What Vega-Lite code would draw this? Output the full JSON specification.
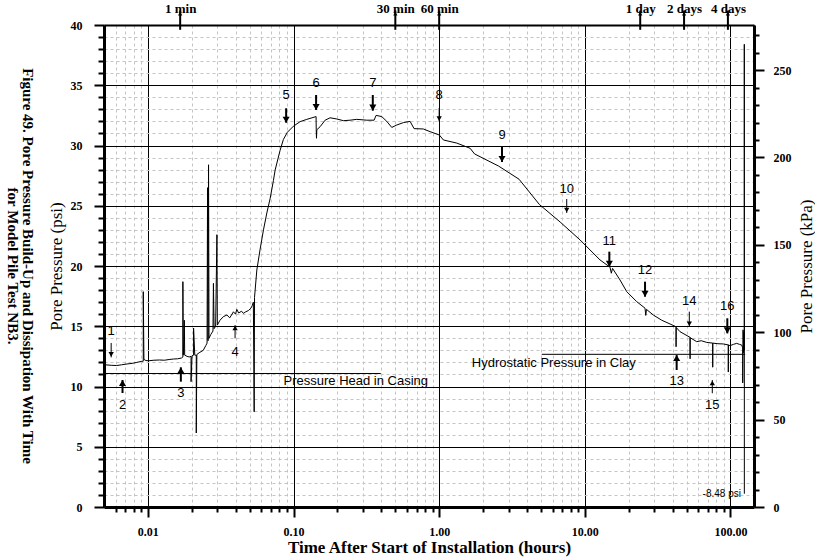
{
  "$schema": "https://vega.github.io/schema/vega-lite/v6.json",
  "width": 650,
  "height": 482,
  "autosize": {"type": "none"},
  "padding": {"left": 104, "top": 25, "right": 61, "bottom": 51},
  "background": "white",
  "config": {
    "view": {"stroke": null},
    "axis": {
      "domainColor": "black", "tickColor": "black", "labelColor": "black", "titleColor": "black",
      "labelFont": "Liberation Serif", "labelFontWeight": "bold", "labelFontSize": 12,
      "titleFont": "Liberation Serif", "titleFontWeight": "normal", "titleFontSize": 17,
      "tickWidth": 2, "domainWidth": 3, "gridOpacity": 1, "labelOverlap": false, "labelFlush": false
    }
  },
  "title": {
    "text": ["Figure 49.  Pore Pressure Build-Up and Dissipation With Time", "for Model Pile Test NB3."],
    "orient": "left", "angle": 90, "anchor": "middle",
    "font": "Liberation Serif", "fontSize": 15, "fontWeight": "bold", "color": "black",
    "lineHeight": 15, "offset": -18
  },
  "datasets": {
    "curve": [
      {"t":0.0051,"p":11.80},{"t":0.0056,"p":11.76},{"t":0.0061,"p":11.74},{"t":0.0066,"p":11.80},{"t":0.0072,"p":11.87},{"t":0.0078,"p":11.92},{"t":0.0084,"p":12.00},{"t":0.0090,"p":12.08},{"t":0.0093,"p":12.10},{"t":0.0093,"p":17.87},{"t":0.0094,"p":12.25},{"t":0.0097,"p":12.15},{"t":0.0102,"p":12.14},{"t":0.0110,"p":12.18},{"t":0.0120,"p":12.20},{"t":0.0130,"p":12.18},{"t":0.0140,"p":12.24},{"t":0.0150,"p":12.28},{"t":0.0160,"p":12.30},{"t":0.0170,"p":12.36},{"t":0.0174,"p":12.45},{"t":0.0174,"p":18.7},{"t":0.0175,"p":12.6},{"t":0.0177,"p":13.9},{"t":0.0178,"p":15.5},{"t":0.0179,"p":12.6},{"t":0.0186,"p":12.5},{"t":0.0192,"p":12.45},{"t":0.0198,"p":12.5},{"t":0.0198,"p":10.4},{"t":0.0201,"p":12.55},{"t":0.0206,"p":12.6},{"t":0.0206,"p":14.85},{"t":0.0210,"p":12.6},{"t":0.0215,"p":12.6},{"t":0.0215,"p":6.14},{"t":0.0217,"p":12.65},{"t":0.0225,"p":12.8},{"t":0.0240,"p":13.0},{"t":0.0250,"p":13.4},{"t":0.0255,"p":13.6},{"t":0.0257,"p":26.5},{"t":0.0259,"p":13.8},{"t":0.0261,"p":28.4},{"t":0.0263,"p":14.0},{"t":0.0270,"p":14.3},{"t":0.0280,"p":14.6},{"t":0.0282,"p":18.56},{"t":0.0285,"p":14.8},{"t":0.0292,"p":15.0},{"t":0.0298,"p":22.6},{"t":0.0300,"p":15.1},{"t":0.0313,"p":15.5},{"t":0.0330,"p":15.8},{"t":0.0349,"p":15.93},{"t":0.0365,"p":15.7},{"t":0.0387,"p":16.2},{"t":0.0400,"p":16.0},{"t":0.0408,"p":16.4},{"t":0.0420,"p":16.1},{"t":0.0440,"p":16.25},{"t":0.0453,"p":16.07},{"t":0.0470,"p":16.2},{"t":0.0490,"p":16.3},{"t":0.0510,"p":16.5},{"t":0.0520,"p":16.7},{"t":0.0530,"p":17.0},{"t":0.0537,"p":7.9},{"t":0.0540,"p":17.4},{"t":0.0560,"p":19.67},{"t":0.0590,"p":21.4},{"t":0.0622,"p":23.0},{"t":0.0656,"p":24.4},{"t":0.0691,"p":25.6},{"t":0.0728,"p":27.1},{"t":0.0748,"p":27.97},{"t":0.0809,"p":29.6},{"t":0.0852,"p":30.5},{"t":0.0908,"p":31.1},{"t":0.0998,"p":31.6},{"t":0.111,"p":31.98},{"t":0.1234,"p":32.17},{"t":0.1429,"p":32.4},{"t":0.1432,"p":31.3},{"t":0.1438,"p":30.6},{"t":0.1445,"p":31.3},{"t":0.1523,"p":31.56},{"t":0.1648,"p":32.1},{"t":0.1783,"p":32.3},{"t":0.1983,"p":32.2},{"t":0.22,"p":32.06},{"t":0.2446,"p":32.1},{"t":0.272,"p":32.17},{"t":0.3185,"p":32.1},{"t":0.3574,"p":32.1},{"t":0.3689,"p":32.5},{"t":0.4036,"p":32.4},{"t":0.4369,"p":32.0},{"t":0.4727,"p":31.5},{"t":0.5117,"p":31.7},{"t":0.5679,"p":31.9},{"t":0.6314,"p":32.0},{"t":0.6725,"p":31.4},{"t":0.7788,"p":31.37},{"t":0.8662,"p":31.15},{"t":1.003,"p":30.87},{"t":1.069,"p":30.46},{"t":1.321,"p":30.2},{"t":1.63,"p":29.77},{"t":1.75,"p":29.3},{"t":2.553,"p":28.3},{"t":3.535,"p":27.2},{"t":4.88,"p":25.1},{"t":6.77,"p":23.65},{"t":9.28,"p":22.16},{"t":12.72,"p":20.5},{"t":14.89,"p":19.9},{"t":15.2,"p":19.4},{"t":15.5,"p":19.8},{"t":17.44,"p":18.84},{"t":19.39,"p":17.87},{"t":22.71,"p":17.04},{"t":25.9,"p":16.5},{"t":26.2,"p":15.9},{"t":26.5,"p":16.4},{"t":29.53,"p":15.93},{"t":33.72,"p":15.5},{"t":38.43,"p":15.19},{"t":42.27,"p":14.96},{"t":42.3,"p":13.3},{"t":42.4,"p":14.9},{"t":45.02,"p":14.55},{"t":52.73,"p":14.08},{"t":52.8,"p":12.3},{"t":52.9,"p":14.05},{"t":58.61,"p":13.72},{"t":63.0,"p":13.8},{"t":68.66,"p":13.66},{"t":75.48,"p":13.6},{"t":75.5,"p":11.6},{"t":75.6,"p":13.6},{"t":82.0,"p":13.55},{"t":89.25,"p":13.53},{"t":96.6,"p":13.45},{"t":96.6,"p":11.2},{"t":96.7,"p":13.45},{"t":99.2,"p":13.39},{"t":105,"p":13.5},{"t":110.3,"p":13.58},{"t":115,"p":13.5},{"t":119.4,"p":13.44},{"t":121.3,"p":13.2},{"t":121.3,"p":10.3},{"t":122.0,"p":14.7},{"t":122.8,"p":12.8},{"t":123.5,"p":14.5},{"t":124.4,"p":13.0},{"t":124.4,"p":38.4},{"t":124.5,"p":1.1}
    ],
    "arrows": [
      {"n":"1","t":0.0056,"label":14.6,"tail":13.61,"head":12.42,"dir":"down"},
      {"n":"2","t":0.0067,"label":8.46,"tail":9.46,"head":10.54,"dir":"up"},
      {"n":"3","t":0.01685,"label":9.44,"tail":10.40,"head":11.59,"dir":"up"},
      {"n":"4","t":0.0397,"label":12.89,"tail":14.0,"head":15.10,"dir":"up"},
      {"n":"5","t":0.089,"label":34.19,"tail":33.09,"head":31.89,"dir":"down"},
      {"n":"6","t":0.1429,"label":35.16,"tail":34.19,"head":32.95,"dir":"down"},
      {"n":"7","t":0.3502,"label":35.16,"tail":34.19,"head":32.89,"dir":"down"},
      {"n":"8","t":1.0,"label":34.19,"tail":33.11,"head":31.98,"dir":"down"},
      {"n":"9","t":2.70,"label":30.89,"tail":29.89,"head":28.63,"dir":"down"},
      {"n":"10","t":7.51,"label":26.36,"tail":25.56,"head":24.40,"dir":"down"},
      {"n":"11","t":14.73,"label":22.07,"tail":21.19,"head":19.94,"dir":"down"},
      {"n":"12","t":25.9,"label":19.67,"tail":18.70,"head":17.45,"dir":"down"},
      {"n":"13","t":42.7,"label":10.46,"tail":11.37,"head":12.61,"dir":"up"},
      {"n":"14","t":52.15,"label":17.12,"tail":16.21,"head":14.96,"dir":"down"},
      {"n":"15","t":75.0,"label":8.46,"tail":9.44,"head":10.54,"dir":"up"},
      {"n":"16","t":95.1,"label":16.68,"tail":15.66,"head":14.41,"dir":"down"}
    ],
    "refs": [
      {"name":"Pressure Head in Casing","t1":0.005,"t2":0.3973,"p":11.08},
      {"name":"Hydrostatic Pressure in Clay","t1":5.06,"t2":126,"p":12.67}
    ],
    "notes": [
      {"text":"Pressure Head in Casing","t":0.0854,"p":10.46},
      {"text":"Hydrostatic Pressure in Clay","t":1.674,"p":11.92}
    ],
    "offscale": [
      {"text":"-8.48 psi","t":118,"p":1.05}
    ],
    "times": [
      {"label":"1 min","t":0.016667},
      {"label":"30 min","t":0.5},
      {"label":"60 min","t":1},
      {"label":"1 day","t":24},
      {"label":"2 days","t":48},
      {"label":"4 days","t":96}
    ]
  },
  "layer": [
    {
      "data": {"name": "curve"},
      "mark": {"type": "line", "color": "black", "strokeWidth": 1, "clip": true},
      "encoding": {
        "x": {"field": "t", "type": "quantitative",
          "scale": {"type": "log", "domain": [0.005, 145], "nice": false},
          "axis": {"orient": "bottom", "values": [0.01, 0.1, 1, 10, 100], "format": ".2f",
            "grid": true, "gridColor": "black", "gridWidth": 1, "tickSize": 10, "labelPadding": 9,
            "title": "Time After Start of Installation (hours)", "titleFont": "Liberation Serif", "titleFontSize": 17, "titleFontWeight": "bold", "titlePadding": 2}},
        "y": {"field": "p", "type": "quantitative",
          "scale": {"domain": [0, 40], "nice": false, "zero": false},
          "axis": {"orient": "left", "values": [0, 5, 10, 15, 20, 25, 30, 35, 40],
            "grid": true, "gridColor": "black", "gridWidth": 1, "tickSize": 10, "labelPadding": 12,
            "title": "Pore Pressure (psi)", "titleFont": "Liberation Serif", "titleFontSize": 17, "titleFontWeight": "normal", "titlePadding": 5}}
      }
    },
    {
      "data": {"name": "arrows"},
      "mark": {"type": "text", "font": "Liberation Sans", "fontSize": 13, "color": "black", "baseline": "middle", "align": "center"},
      "encoding": {
        "x": {"field": "t", "type": "quantitative",
          "scale": {"type": "log", "domain": [0.005, 145], "nice": false},
          "axis": {"orient": "bottom", "values": [0.006,0.007,0.008,0.009,0.02,0.03,0.04,0.05,0.06,0.07,0.08,0.09,0.2,0.3,0.4,0.5,0.6,0.7,0.8,0.9,2,3,4,5,6,7,8,9,20,30,40,50,60,70,80,90],
            "grid": true, "gridColor": "#c4c4c4", "gridDash": [3, 3], "gridWidth": 1, "tickSize": 5, "labels": false, "domain": false, "title": null}},
        "y": {"field": "label", "type": "quantitative",
          "scale": {"domain": [0, 40], "nice": false, "zero": false},
          "axis": {"orient": "left", "values": [1,2,3,4,6,7,8,9,11,12,13,14,16,17,18,19,21,22,23,24,26,27,28,29,31,32,33,34,36,37,38,39],
            "grid": true, "gridColor": "#c4c4c4", "gridDash": [3, 3], "gridWidth": 1, "tickSize": 6, "labels": false, "domain": false, "title": null}},
        "text": {"field": "n"}
      }
    },
    {
      "data": {"name": "arrows"},
      "mark": {"type": "rule", "color": "black"},
      "encoding": {
        "x": {"field": "t", "type": "quantitative",
          "scale": {"type": "log", "domain": [0.005, 145], "nice": false},
          "axis": {"orient": "top", "values": [0.016667, 0.5, 1, 24, 48, 96],
            "labelExpr": "datum.value < 0.1 ? '1 min' : datum.value < 0.75 ? '30 min' : datum.value < 2 ? '60 min' : datum.value < 30 ? '1 day' : datum.value < 60 ? '2 days' : '4 days'",
            "tickSize": 0, "labelPadding": 10, "labelFontSize": 13, "domainWidth": 2, "grid": false, "title": null}},
        "y": {"field": "tail", "type": "quantitative",
          "scale": {"domain": [0, 40], "nice": false, "zero": false},
          "axis": {"orient": "right", "values": [0, 7.2519, 14.5038, 21.7557, 29.0075, 36.2594],
            "labelExpr": "format(datum.value * 6.894757, '.0f')",
            "tickSize": 10, "labelPadding": 9, "grid": false,
            "title": "Pore Pressure (kPa)", "titleFont": "Liberation Serif", "titleFontSize": 17, "titleFontWeight": "normal",
            "titleAngle": 270, "titleBaseline": "top", "titlePadding": 7}},
        "y2": {"field": "head"},
        "strokeWidth": {"condition": {"test": "indexof(['1','4','8','10','14','15'], datum.n) >= 0", "value": 1}, "value": 2}
      }
    },
    {
      "data": {"name": "arrows"},
      "transform": [{"filter": "datum.dir == 'down'"}],
      "mark": {"type": "point", "shape": "triangle-down", "filled": true, "color": "black", "opacity": 1, "yOffset": -3},
      "encoding": {
        "x": {"field": "t", "type": "quantitative", "scale": {"type": "log", "domain": [0.005, 145], "nice": false}, "axis": null},
        "y": {"field": "head", "type": "quantitative", "scale": {"domain": [0, 40], "nice": false, "zero": false}, "axis": null},
        "size": {"condition": {"test": "indexof(['1','4','8','10','14','15'], datum.n) >= 0", "value": 28}, "value": 50}
      }
    },
    {
      "data": {"name": "arrows"},
      "transform": [{"filter": "datum.dir == 'up'"}],
      "mark": {"type": "point", "shape": "triangle-up", "filled": true, "color": "black", "opacity": 1, "yOffset": 3},
      "encoding": {
        "x": {"field": "t", "type": "quantitative", "scale": {"type": "log", "domain": [0.005, 145], "nice": false}, "axis": null},
        "y": {"field": "head", "type": "quantitative", "scale": {"domain": [0, 40], "nice": false, "zero": false}, "axis": null},
        "size": {"condition": {"test": "indexof(['1','4','8','10','14','15'], datum.n) >= 0", "value": 28}, "value": 50}
      }
    },
    {
      "data": {"name": "refs"},
      "mark": {"type": "rule", "color": "black", "strokeWidth": 1},
      "encoding": {
        "x": {"field": "t1", "type": "quantitative", "scale": {"type": "log", "domain": [0.005, 145], "nice": false}, "axis": null},
        "x2": {"field": "t2"},
        "y": {"field": "p", "type": "quantitative", "scale": {"domain": [0, 40], "nice": false, "zero": false},
          "axis": {"orient": "right", "values": [1.4504,2.9008,4.3511,5.8015,8.7023,10.1526,11.6030,13.0534,15.9541,17.4045,18.8549,20.3053,23.2060,24.6564,26.1068,27.5572,30.4579,31.9083,33.3587,34.8091,37.7098,39.1602],
            "tickSize": 5, "labels": false, "domain": false, "grid": false, "title": null}}
      }
    },
    {
      "data": {"name": "notes"},
      "mark": {"type": "text", "font": "Liberation Sans", "fontSize": 13, "color": "black", "align": "left", "baseline": "middle"},
      "encoding": {
        "x": {"field": "t", "type": "quantitative", "scale": {"type": "log", "domain": [0.005, 145], "nice": false}, "axis": null},
        "y": {"field": "p", "type": "quantitative", "scale": {"domain": [0, 40], "nice": false, "zero": false}, "axis": null},
        "text": {"field": "text"}
      }
    },
    {
      "data": {"name": "offscale"},
      "mark": {"type": "text", "font": "Liberation Sans", "fontSize": 10, "color": "black", "align": "right", "baseline": "middle"},
      "encoding": {
        "x": {"field": "t", "type": "quantitative", "scale": {"type": "log", "domain": [0.005, 145], "nice": false}, "axis": null},
        "y": {"field": "p", "type": "quantitative", "scale": {"domain": [0, 40], "nice": false, "zero": false}, "axis": null},
        "text": {"field": "text"}
      }
    },
    {
      "data": {"name": "times"},
      "mark": {"type": "rule", "color": "black", "strokeWidth": 2},
      "encoding": {
        "x": {"field": "t", "type": "quantitative", "scale": {"type": "log", "domain": [0.005, 145], "nice": false}, "axis": null},
        "y": {"datum": 39.6, "type": "quantitative", "scale": {"domain": [0, 40], "nice": false, "zero": false}, "axis": null},
        "y2": {"datum": 41.2}
      }
    },
    {
      "data": {"name": "times"},
      "mark": {"type": "point", "shape": "triangle-up", "filled": true, "color": "black", "opacity": 1, "size": 18},
      "encoding": {
        "x": {"field": "t", "type": "quantitative", "scale": {"type": "log", "domain": [0.005, 145], "nice": false}, "axis": null},
        "y": {"datum": 40.95, "type": "quantitative", "scale": {"domain": [0, 40], "nice": false, "zero": false}, "axis": null}
      }
    }
  ],
  "resolve": {"axis": {"x": "independent", "y": "independent"}}
}
